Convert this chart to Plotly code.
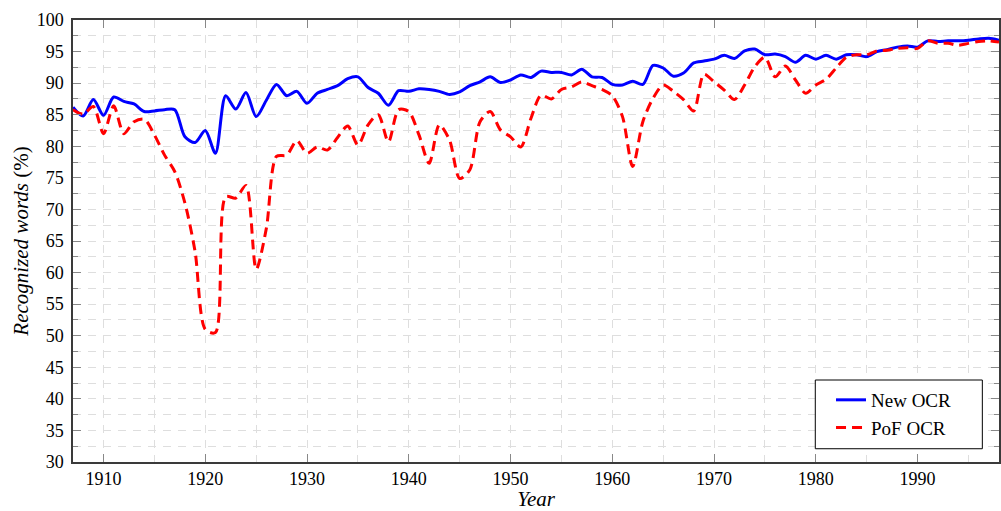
import plotly.graph_objects as go

years = list(range(1907, 1999))

new_ocr = [86.2, 84.8, 87.4, 84.9, 87.8, 87.1, 86.7, 85.5, 85.6, 85.8,
           85.8, 81.5, 80.6, 82.5, 78.9, 88.0, 85.9, 88.5, 84.7, 87.3,
           89.8, 88.0, 88.7, 86.8, 88.4, 89.0, 89.6, 90.7, 91.0, 89.3,
           88.4, 86.5, 88.8, 88.7, 89.1, 89.0, 88.7, 88.2, 88.6, 89.6,
           90.2, 91.0, 90.1, 90.5, 91.3, 90.9, 91.9, 91.7, 91.7, 91.3,
           92.2, 91.0, 90.9, 89.8, 89.7, 90.3, 89.8, 92.8, 92.4, 91.1,
           91.6, 93.2, 93.5, 93.8, 94.4, 93.9, 95.1, 95.4, 94.5, 94.6,
           94.2, 93.3, 94.4, 93.8, 94.4, 93.8, 94.5, 94.5, 94.2, 95.0,
           95.3, 95.7, 95.9, 95.7, 96.7, 96.6, 96.7, 96.7, 96.8, 97.0,
           97.1, 96.8]

pof_ocr = [85.8, 85.1, 86.3, 82.0, 86.4, 82.0, 83.9, 84.3, 81.8, 78.6,
           76.0, 71.0, 63.3, 51.0, 50.5, 72.0, 71.8, 73.8, 60.5, 67.0,
           78.4, 78.6, 80.9, 78.9, 79.9, 79.4, 81.4, 83.2, 80.2, 83.4,
           85.0, 80.7, 85.8, 85.5, 81.8, 77.3, 83.4, 81.0, 74.9, 76.3,
           83.9, 85.5, 82.6, 81.5, 79.9, 84.4, 88.1, 87.5, 89.0, 89.4,
           90.2, 89.6, 89.0, 88.0, 84.7, 76.8, 83.9, 87.6, 89.7, 88.7,
           87.4, 85.6, 91.4, 90.2, 88.9, 87.4, 89.7, 92.6, 94.1, 91.0,
           92.7, 90.5, 88.4, 89.7, 90.6, 92.4, 94.1, 94.5, 94.5, 95.1,
           95.2, 95.5, 95.6, 95.5, 96.7, 96.3, 96.3, 96.0, 96.3, 96.6,
           96.7, 96.5]

x_ticks = [1910, 1920, 1930, 1940, 1950, 1960, 1970, 1980, 1990]
y_ticks = list(range(30, 101, 5))

FONT = "Liberation Serif"
GRID = "#dedede"
AXIS = "#3a3a3a"

fig = go.Figure()
fig.add_trace(go.Scatter(
    x=years, y=new_ocr, name="New OCR", mode="lines",
    line=dict(color="#0000ff", width=3, shape="spline", smoothing=0.8),
))
fig.add_trace(go.Scatter(
    x=years, y=pof_ocr, name="PoF OCR", mode="lines",
    line=dict(color="#ff0000", width=3, shape="spline", smoothing=0.8,
              dash="10px,6px"),
))

# legend frame (white box with black border)
fig.add_shape(
    type="rect", xref="paper", yref="paper",
    x0=0.8016, x1=0.982, y0=0.030, y1=0.1855,
    line=dict(color="black", width=1), fillcolor="white", layer="above",
)

fig.update_layout(
    width=1001, height=511,
    margin=dict(l=73, r=2, t=20, b=49),
    paper_bgcolor="white", plot_bgcolor="white",
    font=dict(family=FONT, size=18, color="black"),
    showlegend=True,
    legend=dict(
        x=0.8186, y=0.034, xanchor="left", yanchor="bottom",
        bgcolor="rgba(0,0,0,0)", borderwidth=0,
        font=dict(family=FONT, size=19, color="black"),
    ),
)

fig.update_xaxes(
    range=[1907, 1998], automargin=False,
    tickmode="array", tickvals=x_ticks, ticktext=[str(v) for v in x_ticks],
    ticks="inside", ticklen=8, tickcolor="#888888", tickwidth=1,
    showline=True, linecolor=AXIS, linewidth=1.5, mirror="ticks",
    showgrid=True, gridcolor=GRID, griddash="8px,7px", gridwidth=1,
    minor=dict(dtick=5, tick0=1905, showgrid=True, gridcolor=GRID,
               griddash="8px,7px", ticks=""),
    zeroline=False,
    tickfont=dict(family=FONT, size=18),
    title=dict(text="<i>Year</i>", font=dict(family=FONT, size=21), standoff=15),
)
fig.update_yaxes(
    range=[30, 100], automargin=False,
    tickmode="array", tickvals=y_ticks, ticktext=[str(v) for v in y_ticks],
    ticks="inside", ticklen=8, tickcolor="#888888", tickwidth=1,
    ticklabelstandoff=4,
    showline=True, linecolor=AXIS, linewidth=1.5, mirror="ticks",
    showgrid=True, gridcolor=GRID, griddash="8px,7px", gridwidth=1,
    minor=dict(dtick=2.5, tick0=30, showgrid=True, gridcolor=GRID,
               griddash="8px,7px", ticks="inside", ticklen=5,
               tickcolor="#888888"),
    zeroline=False,
    tickfont=dict(family=FONT, size=18),
    title=dict(text="<i>Recognized words</i> (%)", font=dict(family=FONT, size=21),
               standoff=2),
)

fig.write_html("out.html", config={"displayModeBar": False},
               post_script="document.body.style.margin='0px';")
